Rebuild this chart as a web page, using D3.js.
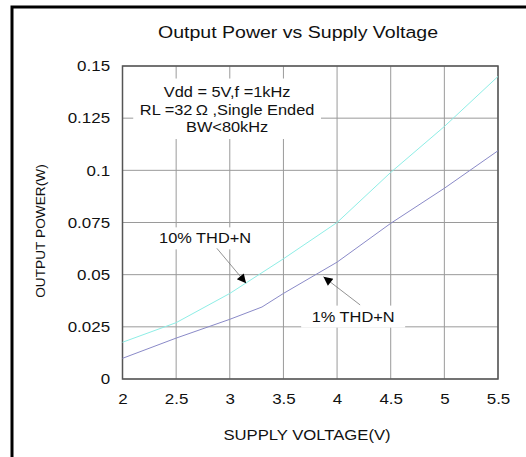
<!DOCTYPE html>
<html>
<head>
<meta charset="utf-8">
<script src="https://cdn.jsdelivr.net/npm/d3@7"></script>
<style>
  body { margin: 0; background: #fff; }
  svg text { font-family: "Liberation Sans", Arial, sans-serif; fill: #111; }
</style>
</head>
<body>
<div id="chart"></div>
<script>
// data
const voltage10 = [2, 2.5, 3, 3.5, 4, 4.5, 5, 5.5];
const thd10 = [0.0176, 0.027, 0.041, 0.0576, 0.075, 0.099, 0.121, 0.145];
const voltage1 = [2, 2.5, 3, 3.3, 3.5, 4, 4.5, 5, 5.5];
const thd1 = [0.0099, 0.0196, 0.0286, 0.0345, 0.041, 0.056, 0.0746, 0.0914, 0.1094];
const xTicks = [2, 2.5, 3, 3.5, 4, 4.5, 5, 5.5];
const yTicks = [0, 0.025, 0.05, 0.075, 0.1, 0.125, 0.15];
const conditions = ["Vdd = 5V,f =1kHz", "RL =32\u202F\u03A9 ,Single Ended", "BW<80kHz"];

const W = 526, H = 457;
const margin = { top: 66, right: 28, bottom: 78, left: 122.5 };
const width = W - margin.left - margin.right;
const height = H - margin.top - margin.bottom;
const stretch = 1.15; // text in the reference is a bit wide

const root = d3.select("#chart").append("svg")
  .attr("width", W)
  .attr("height", H);

// text drawn a little wider than the font, like the reference
function wideText(parent, px, py, size, str, sx = stretch) {
  return parent.append("text")
    .attr("transform", `translate(${px},${py}) scale(${sx},1)`)
    .attr("text-anchor", "middle")
    .style("font-size", size + "px")
    .text(str);
}

// outer frame (only top/left visible in view)
root.append("rect")
  .attr("x", 12).attr("y", 7)
  .attr("width", 700).attr("height", 600)
  .attr("fill", "none")
  .attr("stroke", "#000")
  .attr("stroke-width", 3);

// title
wideText(root, 298, 38, 17, "Output Power vs Supply Voltage");

const svg = root.append("g")
  .attr("transform", `translate(${margin.left},${margin.top})`);

// scales
const x = d3.scaleLinear().domain([2, 5.5]).range([0, width]);
const y = d3.scaleLinear().domain([0, 0.15]).range([height, 0]);

// grid
svg.append("g")
  .selectAll("line")
  .data(xTicks)
  .join("line")
  .attr("x1", d => x(d)).attr("x2", d => x(d))
  .attr("y1", 0).attr("y2", height)
  .attr("stroke", "#9a9a9a")
  .attr("stroke-width", 1);

svg.append("g")
  .selectAll("line")
  .data(yTicks)
  .join("line")
  .attr("x1", 0).attr("x2", width)
  .attr("y1", d => y(d)).attr("y2", d => y(d))
  .attr("stroke", "#9a9a9a")
  .attr("stroke-width", 1);

// frame of plot
svg.append("rect")
  .attr("width", width).attr("height", height)
  .attr("fill", "none")
  .attr("stroke", "#555")
  .attr("stroke-width", 1.5);

// axes (labels only)
const xAxis = d3.axisBottom(x).tickValues(xTicks).tickSize(0).tickPadding(14)
  .tickFormat(d3.format("~g"));
const yAxis = d3.axisLeft(y).tickValues(yTicks).tickSize(0).tickPadding(11)
  .tickFormat(d3.format("~g"));

const gx = svg.append("g").attr("transform", `translate(0,${height})`).call(xAxis);
const gy = svg.append("g").call(yAxis);
[gx, gy].forEach(g => {
  g.select(".domain").remove();
  g.selectAll("text")
    .attr("transform", "scale(1.13,1)")
    .style("font-size", "15px")
    .style("font-family", "Liberation Sans, Arial, sans-serif")
    .attr("fill", "#111");
});

// axis titles
wideText(root, 307, 440, 14.5, "SUPPLY VOLTAGE(V)");

root.append("text")
  .attr("transform", "rotate(-90)")
  .attr("x", -231).attr("y", 45)
  .attr("text-anchor", "middle")
  .style("font-size", "13.7px")
  .text("OUTPUT POWER(W)");

// conditions box
svg.append("rect")
  .attr("x", x(2.1)).attr("y", y(0.144))
  .attr("width", x(3.85) - x(2.1)).attr("height", y(0.115) - y(0.144))
  .attr("fill", "#fff");

conditions.forEach((c, i) => {
  wideText(svg, x(2.975), y(0.1335) - 3 + i * 17.5, 14, c, 1.17);
});

// curves
const line = d3.line()
  .x(d => x(d[0]))
  .y(d => y(d[1]));

svg.append("path")
  .datum(d3.zip(voltage10, thd10))
  .attr("fill", "none")
  .attr("stroke", "#8eeee6")
  .attr("stroke-width", 1)
  .attr("d", line);

svg.append("path")
  .datum(d3.zip(voltage1, thd1))
  .attr("fill", "none")
  .attr("stroke", "#8a8ac8")
  .attr("stroke-width", 1)
  .attr("d", line);

// arrow marker
root.append("defs").append("marker")
  .attr("id", "arrow")
  .attr("viewBox", "0 0 10 10")
  .attr("refX", 10).attr("refY", 5)
  .attr("markerWidth", 11).attr("markerHeight", 9)
  .attr("markerUnits", "userSpaceOnUse")
  .attr("orient", "auto")
  .append("path")
  .attr("d", "M0,0L10,5L0,10Z")
  .attr("fill", "#000");

// curve labels
const labels = [
  { text: "10% THD+N", lx: 2.77, ly: 0.0674, ax: 2.88, ay: 0.0626, tx: 3.152, ty: 0.0459, w: 108 },
  { text: "1% THD+N", lx: 4.15, ly: 0.0299, ax: 4.215, ay: 0.0355, tx: 3.873, ty: 0.049, w: 104 }
];

labels.forEach(l => {
  svg.append("rect")
    .attr("x", x(l.lx) - l.w / 2).attr("y", y(l.ly) - 11)
    .attr("width", l.w).attr("height", 22)
    .attr("fill", "#fff");
  svg.append("line")
    .attr("x1", x(l.ax)).attr("y1", y(l.ay))
    .attr("x2", x(l.tx)).attr("y2", y(l.ty))
    .attr("stroke", "#777")
    .attr("stroke-width", 0.8)
    .attr("marker-end", "url(#arrow)");
  wideText(svg, x(l.lx), y(l.ly) + 5, 14, l.text, 1.17);
});
</script>
</body>
</html>
